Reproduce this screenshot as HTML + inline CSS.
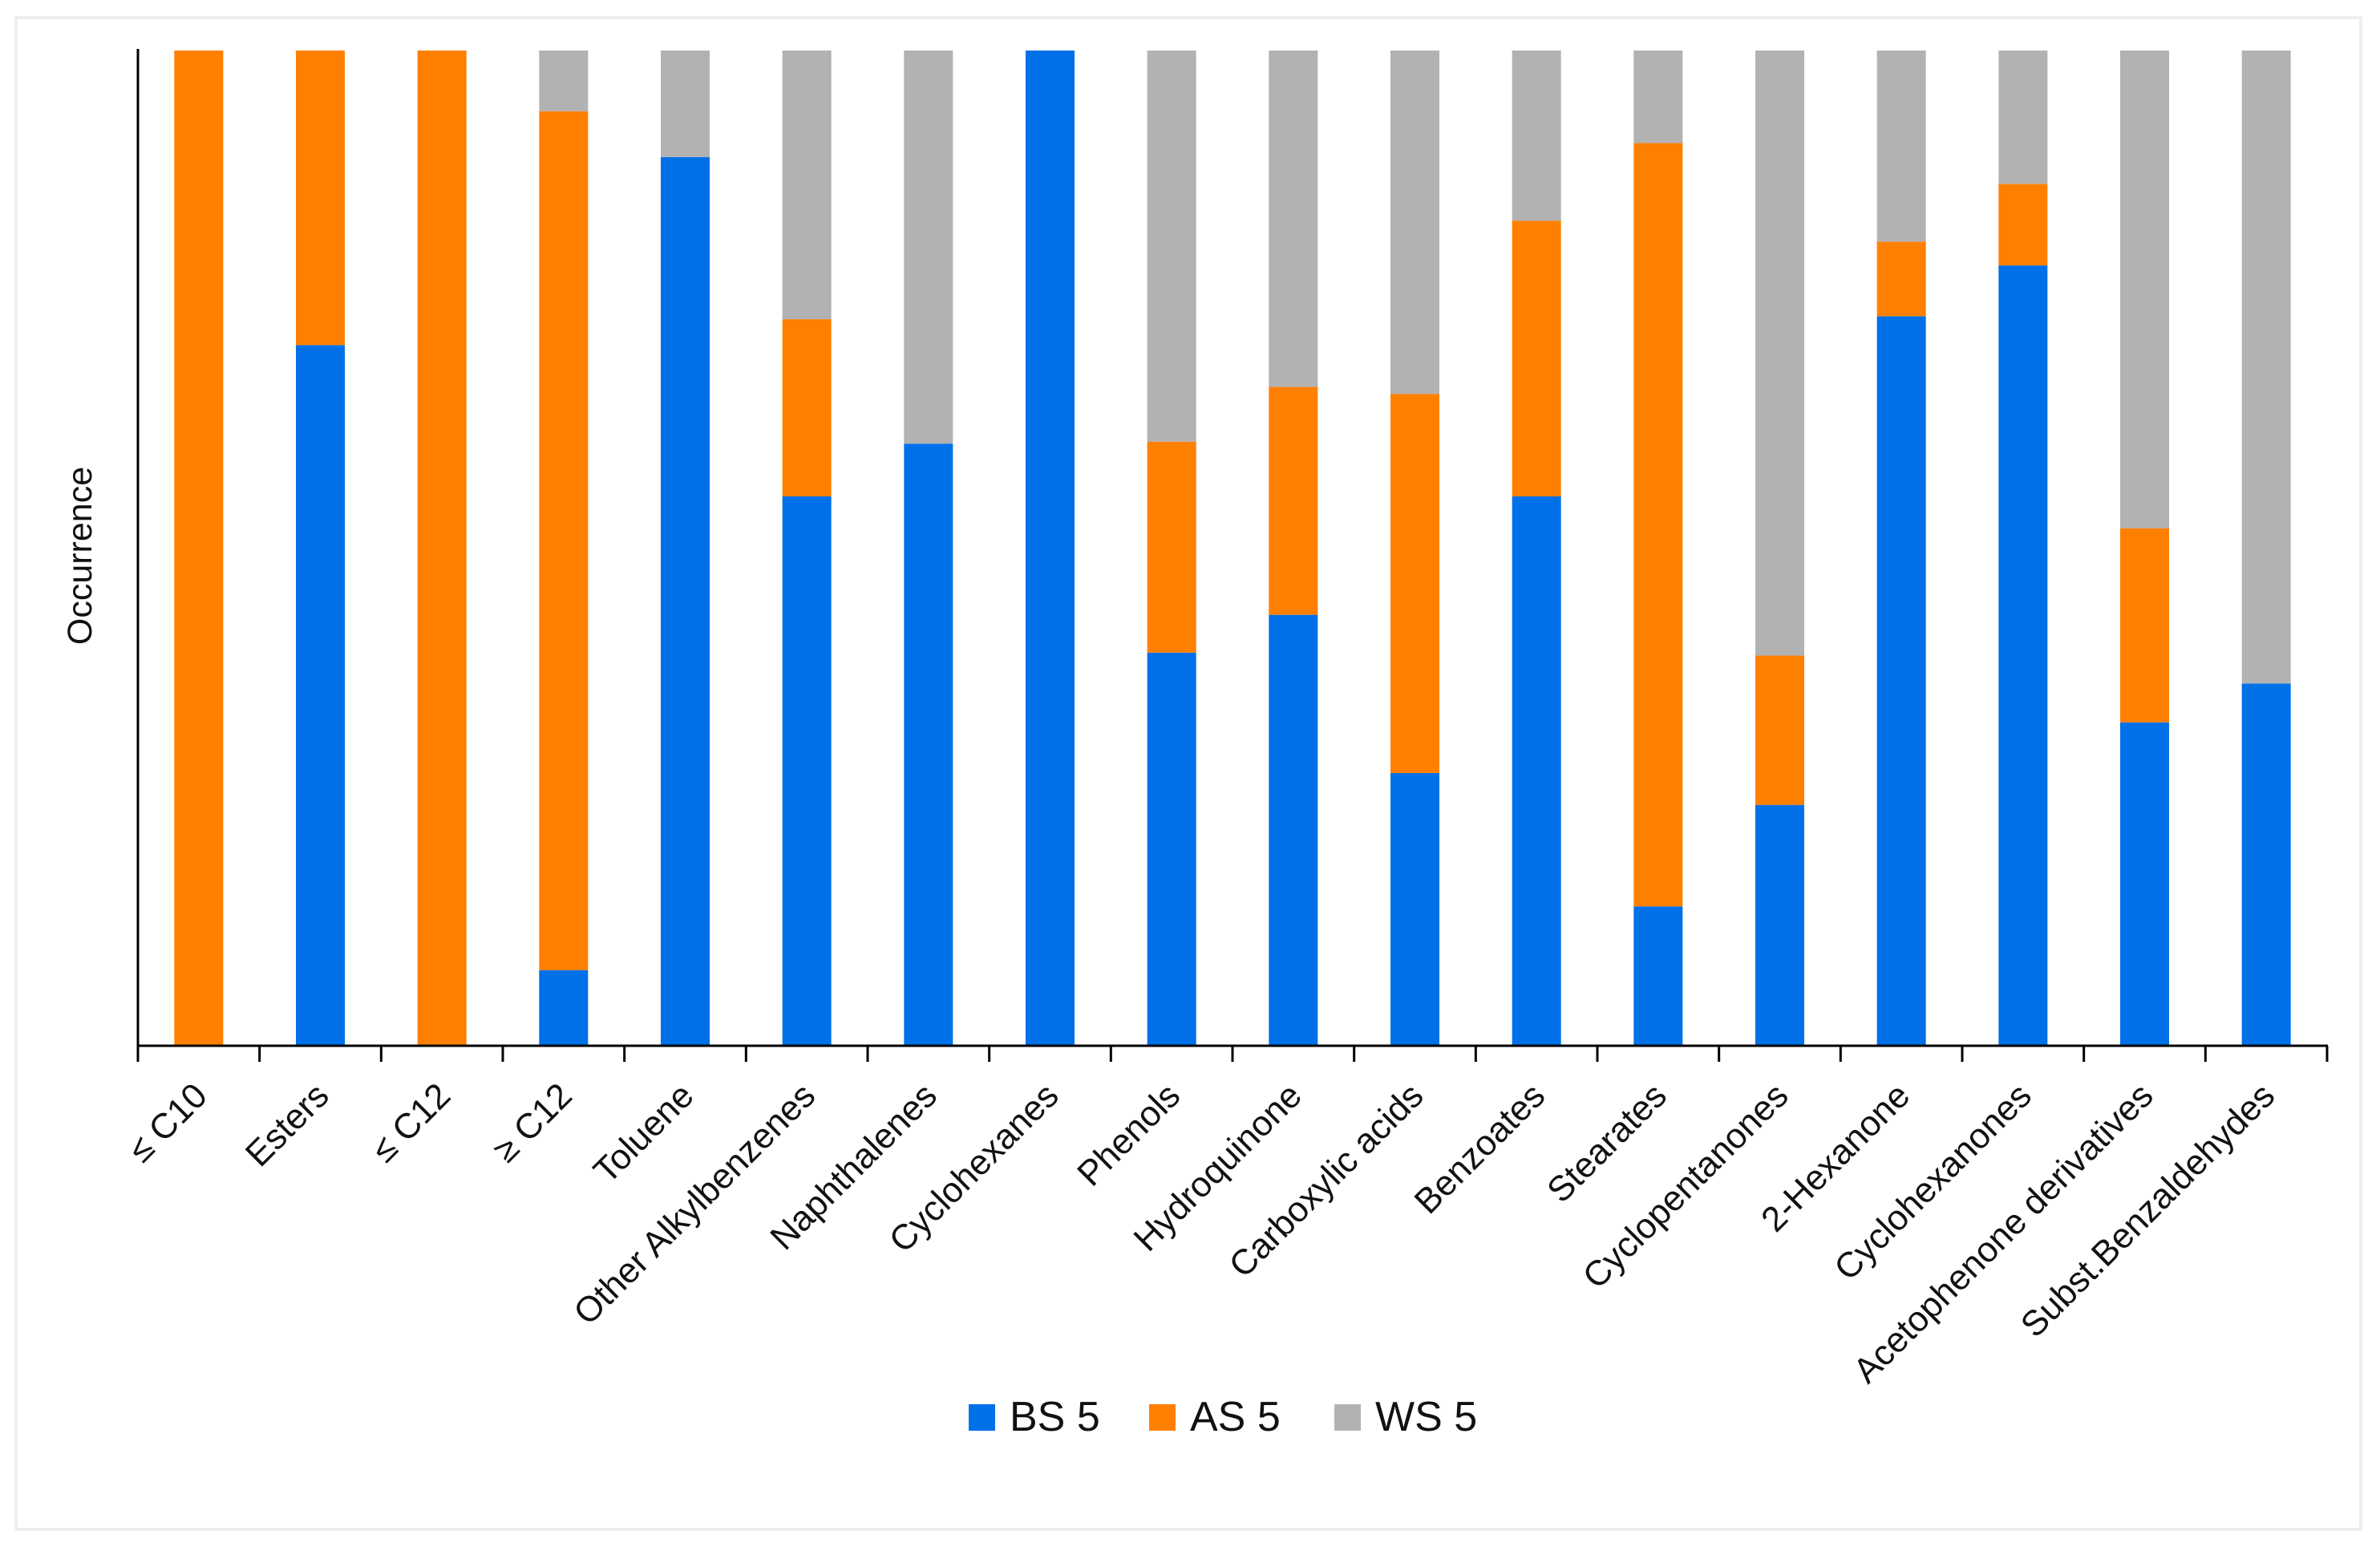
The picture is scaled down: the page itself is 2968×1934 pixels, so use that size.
<!DOCTYPE html>
<html>
<head>
<meta charset="utf-8">
<title>Occurrence chart</title>
<style>
html,body{margin:0;padding:0;background:#fff;width:2968px;height:1934px;overflow:hidden}
svg{display:block}
text{font-family:"Liberation Sans",sans-serif;fill:#111}
</style>
</head>
<body>
<svg id="chart" xmlns="http://www.w3.org/2000/svg" width="2968" height="1934" viewBox="0 0 2968 1934">
  <rect x="20" y="22" width="2924" height="1885" fill="#fff" stroke="#eeeeee" stroke-width="4"/>
  <g id="bars"></g>
  <g id="axes"></g>
  <text transform="translate(114,693) rotate(-90)" text-anchor="middle" font-size="43">Occurrence</text>
  <g id="legend"></g>
</svg>
<script>
const categories = ["≤ C10","Esters","≤ C12","≥ C12","Toluene","Other Alkylbenzenes","Naphthalenes","Cyclohexanes","Phenols","Hydroquinone","Carboxylic acids","Benzoates","Stearates","Cyclopentanones","2-Hexanone","Cyclohexanones","Acetophenone derivatives","Subst.Benzaldehydes"];
const bsValues = [0,70.4,0,7.6,89.3,55.2,60.5,100,39.5,43.3,27.4,55.2,14,24.2,73.3,78.4,32.5,36.4];
const asValues = [100,29.6,100,86.3,0,17.8,0,0,21.2,22.9,38.1,27.7,76.7,15,7.5,8.2,19.5,0];
const wsValues = [0,0,0,6.1,10.7,27,39.5,0,39.3,33.8,34.5,17.1,9.3,60.8,19.2,13.4,48,63.6];
const seriesNames = ["BS 5","AS 5","WS 5"];

const NS = "http://www.w3.org/2000/svg";
const plot = {left:172, right:2902, top:63, bottom:1304, max:100};
const colors = ["#0070e8","#ff7f00","#b2b2b2"];
const series = [bsValues, asValues, wsValues];
const band = (plot.right - plot.left) / categories.length;
const barWidth = 61;
function xCenter(i){ return plot.left + band * (i + 0.5); }
function yPos(v){ return plot.bottom - (v / plot.max) * (plot.bottom - plot.top); }
function mk(tag, attrs){
  const el = document.createElementNS(NS, tag);
  Object.keys(attrs).forEach(k => el.setAttribute(k, attrs[k]));
  return el;
}
const barsG = document.getElementById('bars');
const axesG = document.getElementById('axes');
const legendG = document.getElementById('legend');

categories.forEach((cat, i) => {
  let base = 0;
  series.forEach((vals, s) => {
    const v = vals[i];
    if (v > 0) {
      const yTop = yPos(base + v);
      const yBot = yPos(base);
      const r = mk('rect', {x: xCenter(i) - barWidth / 2, y: yTop, width: barWidth, height: yBot - yTop, fill: colors[s]});
      
      
      barsG.appendChild(r);
    }
    base += v;
  });
  const label = mk('text', {transform: 'translate(' + (xCenter(i) + 13) + ',1369) rotate(-45)', 'text-anchor': 'end', 'font-size': 44});
  
  
  label.textContent = cat;
  axesG.appendChild(label);
});

for (let i = 0; i <= categories.length; i++) {
  const x = plot.left + band * i;
  const t = mk('line', {x1: x, x2: x, y1: plot.bottom, y2: plot.bottom + 20, stroke: '#000', 'stroke-width': 3});
  
  
  axesG.appendChild(t);
}
const yAxis = mk('line', {x1: plot.left, x2: plot.left, y1: plot.top - 2, y2: plot.bottom, stroke: '#000', 'stroke-width': 3});


axesG.appendChild(yAxis);
const xAxis = mk('line', {x1: plot.left, x2: plot.right + 1, y1: plot.bottom, y2: plot.bottom, stroke: '#000', 'stroke-width': 3});


axesG.appendChild(xAxis);

const legendX = [1208, 1433, 1664];
seriesNames.forEach((name, s) => {
  const sw = mk('rect', {x: legendX[s], y: 1751, width: 33, height: 33, fill: colors[s]});
  
  
  legendG.appendChild(sw);
  const tx = mk('text', {x: legendX[s] + 51, y: 1784, 'font-size': 52});
  
  
  tx.textContent = name;
  legendG.appendChild(tx);
});
</script>
</body>
</html>
